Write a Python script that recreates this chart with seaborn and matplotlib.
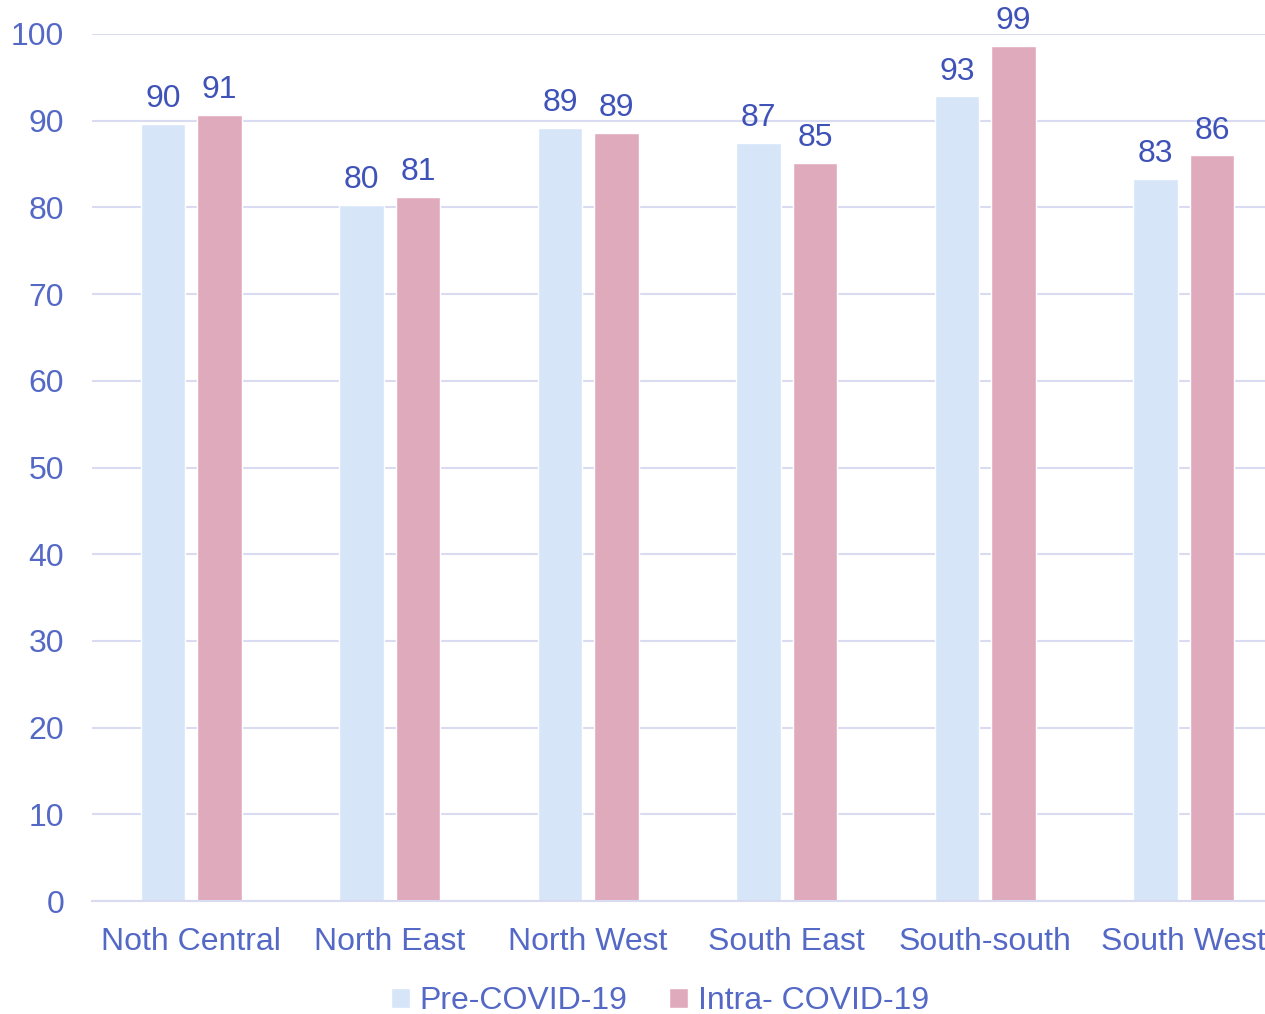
import pandas as pd
import matplotlib
matplotlib.use("Agg")
import matplotlib.pyplot as plt
import seaborn as sns

# 지역별 값
regions = ['Noth Central', 'North East', 'North West', 'South East', 'South-south', 'South West']
pre_covid = [89.6, 80.3, 89.2, 87.4, 92.8, 83.3]
intra_covid = [90.7, 81.2, 88.6, 85.1, 98.6, 86.0]
series_names = ['Pre-COVID-19', 'Intra- COVID-19']

df = pd.DataFrame({
    'region': regions * 2,
    'value': pre_covid + intra_covid,
    'series': [series_names[0]] * len(regions) + [series_names[1]] * len(regions),
})

sns.set_style('white')
plt.rcParams['font.family'] = ['Liberation Sans', 'DejaVu Sans']

tick_color = '#5468C6'
label_color = '#3F52B8'
colors = ['#D6E5F8', '#E0AABD']
fs = 23

fig = plt.figure(figsize=(12.65, 10.14), dpi=100)
ax = fig.add_axes([0.0727, 0.1114, 0.9273, 0.8551])

sns.barplot(data=df, x='region', y='value', hue='series', palette=colors,
            saturation=1, width=0.57, gap=0.21, ax=ax, legend=True)

# 값 라벨
for cont in ax.containers:
    ax.bar_label(cont, labels=[f'{v:.0f}' for v in cont.datavalues],
                 padding=7, fontsize=fs, color=label_color, clip_on=False)

ax.set_ylim(0, 100)
ax.set_xlim(-0.5, len(regions) - 0.59)
ax.set_yticks(range(0, 101, 10))
ax.yaxis.grid(True, color='#D9DCF0', linewidth=1.5)
ax.set_axisbelow(True)
for s in ['top', 'right', 'left']:
    ax.spines[s].set_visible(False)
ax.spines['bottom'].set_color('#D9DCF0')
ax.spines['bottom'].set_linewidth(1.5)
ax.tick_params(axis='both', length=0, labelsize=fs, labelcolor=tick_color)
ax.tick_params(axis='x', pad=19)
ax.tick_params(axis='y', pad=20)
ax.set_xlabel('')
ax.set_ylabel('')

handles, labels = ax.get_legend_handles_labels()
ax.legend(handles, labels, loc='lower center', bbox_to_anchor=(0.484, -0.133),
          ncol=2, frameon=False, fontsize=fs, labelcolor=tick_color,
          handlelength=0.6, handleheight=0.6, handletextpad=0.3, columnspacing=1.3,
          borderaxespad=0, borderpad=0)

fig.savefig('out.png', dpi=100)
